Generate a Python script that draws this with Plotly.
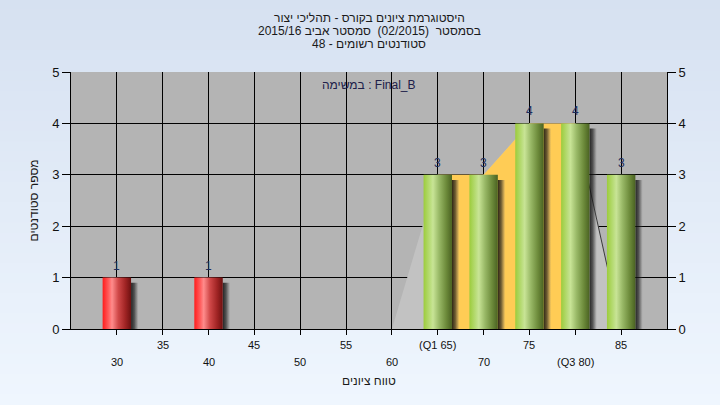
import plotly.graph_objects as go

# ---- data ----
scores = [30, 35, 40, 45, 50, 55, 60, 65, 70, 75, 80, 85]
counts = [1, 0, 1, 0, 0, 0, 0, 3, 3, 4, 4, 3]
tick_text = ["30", "35", "40", "45", "50", "55", "60", "(Q1 65)", "70", "75", "(Q3 80)", "85"]
pass_mark = 55
q1, q3 = 65, 80
env_x = [60, 65, 70, 75, 80, 85]
env_y = [0, 3, 3, 4, 4, 0]
title_lines = [
    "היסטוגרמת ציונים בקורס - תהליכי יצור",
    "בסמסטר  (02/2015)  סמסטר אביב 2015/16",
    "סטודנטים רשומים - 48",
]
task_label = "במשימה : Final_B"
x_title = "טווח ציונים"
y_title = "מספר סטודנטים"

FONT = "Liberation Sans, Arial, DejaVu Sans, sans-serif"
bar_w = 3.1

fig = go.Figure()

# envelope (light grey area)
fig.add_trace(go.Scatter(x=env_x, y=env_y, mode="lines", fill="tozeroy",
                         fillcolor="#c2c2c2", line=dict(width=0), hoverinfo="skip",
                         showlegend=False))
# interquartile area (orange)
iq_x = [x for x in env_x if q1 <= x <= q3]
iq_y = [y for x, y in zip(env_x, env_y) if q1 <= x <= q3]
fig.add_trace(go.Scatter(x=iq_x, y=iq_y, mode="lines", fill="tozeroy",
                         fillcolor="#ffcc55", line=dict(width=0), hoverinfo="skip",
                         showlegend=False))
# dark descending edge of envelope
fig.add_trace(go.Scatter(x=env_x[-2:], y=env_y[-2:], mode="lines",
                         line=dict(color="#3a3a3a", width=1), hoverinfo="skip",
                         showlegend=False))

red_scale = [[0, "#ff1c1c"], [0.2, "#ff5a5a"], [0.33, "#ff8c8c"], [0.55, "#d04848"],
             [0.8, "#a02424"], [1, "#6e1010"]]
green_scale = [[0, "#9ccc3c"], [0.22, "#b8dc78"], [0.33, "#c8e496"], [0.55, "#98b866"],
               [0.8, "#6c8a3a"], [1, "#4a6222"]]
shadow_scale = [[0, "rgba(10,10,10,0.85)"], [0.45, "rgba(30,30,30,0.65)"],
                [0.75, "rgba(60,60,60,0.35)"], [1, "rgba(120,120,120,0.05)"]]

for s, c in zip(scores, counts):
    if c <= 0:
        continue
    x0, x1 = s - bar_w / 2, s + bar_w / 2
    # shadow
    fig.add_trace(go.Scatter(
        x=[x1, x1 + 0.8, x1 + 0.8, x1, x1], y=[0, 0, c - 0.1, c - 0.1, 0],
        mode="lines", fill="toself", line=dict(width=0),
        fillgradient=dict(type="horizontal", colorscale=shadow_scale),
        hoverinfo="skip", showlegend=False))
    # bar
    fig.add_trace(go.Scatter(
        x=[x0, x1, x1, x0, x0], y=[0, 0, c, c, 0],
        mode="lines", fill="toself", line=dict(width=0),
        fillgradient=dict(type="horizontal",
                          colorscale=red_scale if s < pass_mark else green_scale),
        hoverinfo="skip", showlegend=False))
    # value label
    fig.add_annotation(x=s, y=c, xref="x", yref="y", text=str(c), showarrow=False,
                       yshift=12, yanchor="middle",
                       font=dict(family=FONT, size=12, color="#1c2c5c"))

# invisible trace for right axis
fig.add_trace(go.Scatter(x=[scores[0]], y=[0], yaxis="y2", mode="markers",
                         marker=dict(opacity=0), hoverinfo="skip", showlegend=False))

# background gradient (paper)
top = (214, 225, 241)
bot = (239, 246, 254)
n = 40
ytop = 1 + 72 / 257
ybot = -76 / 257
for i in range(n):
    t = i / (n - 1)
    col = tuple(round(top[k] + (bot[k] - top[k]) * t) for k in range(3))
    y1 = ytop - (ytop - ybot) * i / n
    y0 = ytop - (ytop - ybot) * (i + 1) / n
    fig.add_shape(type="rect", xref="paper", yref="paper", x0=-0.2, x1=1.2,
                  y0=y0 - 0.002, y1=y1 + 0.002, fillcolor="rgb(%d,%d,%d)" % col,
                  line_width=0, layer="below")
fig.add_shape(type="rect", xref="paper", yref="paper", x0=0, x1=1, y0=0, y1=1,
              fillcolor="#b4b4b4", line_width=0, layer="below")

# x tick labels in two rows
for i, (s, t) in enumerate(zip(scores, tick_text)):
    fig.add_annotation(x=s, y=0, xref="x", yref="y", text=t, showarrow=False,
                       yshift=-16 if i % 2 == 1 else -33,
                       font=dict(family=FONT, size=11, color="#111111"))

# titles
for j, line in enumerate(title_lines):
    fig.add_annotation(x=0.5, xref="paper", y=1 + (72 - 18 - 13 * j) / 257, yref="paper",
                       text=line, showarrow=False, yanchor="middle",
                       font=dict(family=FONT, size=12, color="#1a1a1a"))
fig.add_annotation(x=0.5, xref="paper", y=1 - 13 / 257, yref="paper", text=task_label,
                   showarrow=False, yanchor="middle",
                   font=dict(family=FONT, size=12, color="#20204a"))
fig.add_annotation(x=0.5, xref="paper", y=-52 / 257, yref="paper", text=x_title,
                   showarrow=False, yanchor="middle",
                   font=dict(family=FONT, size=12, color="#1a1a1a"))
fig.add_annotation(x=-38 / 596, xref="paper", y=0.5, yref="paper", text=y_title,
                   showarrow=False, textangle=-90, xanchor="center", yanchor="middle",
                   font=dict(family=FONT, size=12, color="#1a1a1a"))

axis_common = dict(range=[0, 5], dtick=1, ticks="outside", ticklen=8, tickcolor="black",
                   showline=True, linecolor="black", linewidth=1, zeroline=False,
                   tickfont=dict(family=FONT, size=13, color="#111111"), fixedrange=True)

fig.update_layout(
    width=720, height=405,
    margin=dict(l=71, r=53, t=72, b=76),
    paper_bgcolor="#e6eef9",
    plot_bgcolor="rgba(0,0,0,0)",
    showlegend=False,
    xaxis=dict(range=[25, 90], tickvals=scores, ticktext=[""] * len(scores),
               ticks="outside", ticklen=5, tickcolor="black", showgrid=True,
               gridcolor="black", gridwidth=1, showline=True, linecolor="black",
               zeroline=False, fixedrange=True),
    yaxis=dict(**axis_common, showgrid=True, gridcolor="black", gridwidth=1),
    yaxis2=dict(**axis_common, overlaying="y", side="right", showgrid=False),
)

fig.write_html("out.html", config={"displayModeBar": False},
               post_script="document.body.style.margin='0';")
